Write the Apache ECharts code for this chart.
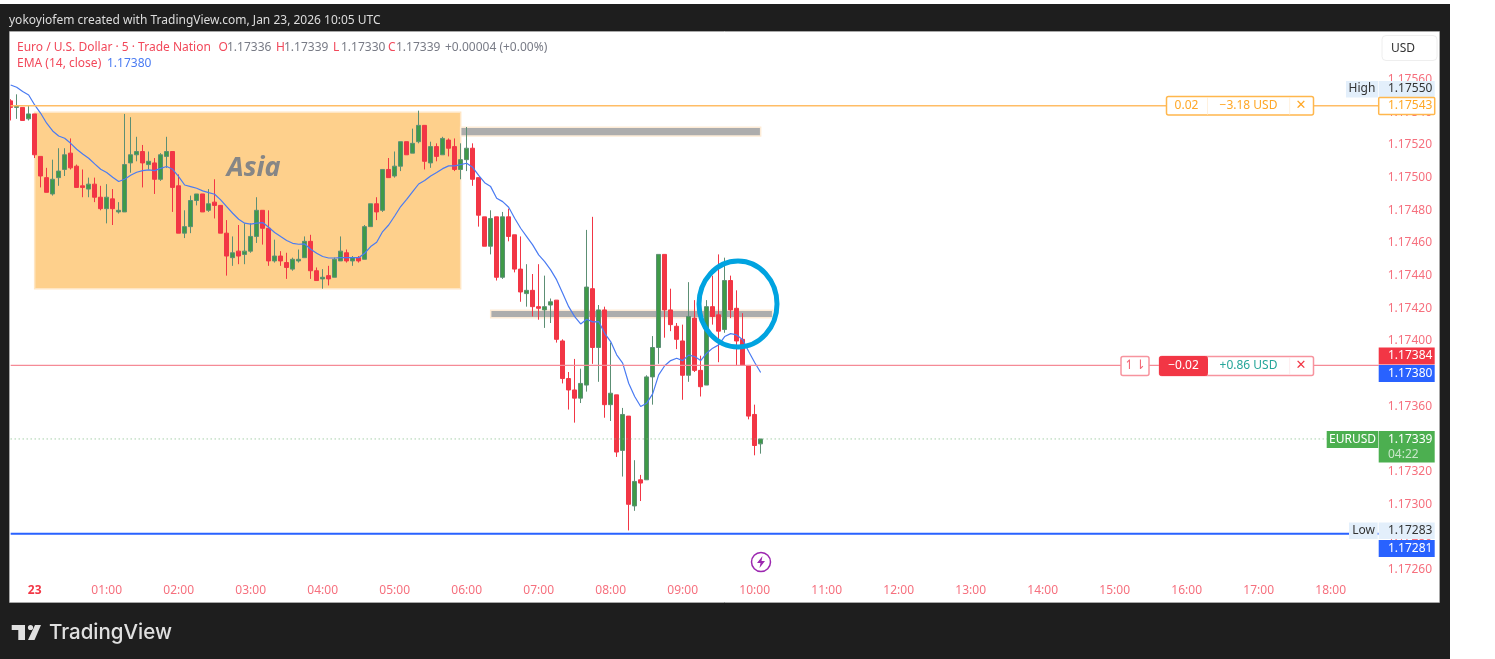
<!DOCTYPE html>
<html>
<head>
<meta charset="utf-8">
<style>html,body{margin:0;padding:0;background:#fff}#main{width:1495px;height:659px}</style>
<script src="https://cdn.jsdelivr.net/npm/echarts@6/dist/echarts.min.js"></script>
</head>
<body>
<div id="main"></div>
<script>
// 5 minute bars, first one is 23:40 of the previous day
var opens = [1.17546,1.17542,1.17542,1.17535,
1.17538,1.17512,1.17499,1.17489,1.17499,1.17504,1.17514,1.17506,1.17494,1.17492,
1.17495,1.17487,1.17480,1.17486,1.17478,1.17478,1.17508,1.17513,1.17515,1.17507,
1.17508,1.17498,1.17512,1.17515,1.17494,1.17465,1.17469,1.17485,1.17489,1.17479,
1.17484,1.17482,1.17465,1.17450,1.17454,1.17452,1.17454,1.17463,1.17479,1.17468,
1.17448,1.17451,1.17447,1.17443,1.17448,1.17450,1.17460,1.17442,1.17437,1.17439,
1.17438,1.17448,1.17453,1.17448,1.17450,1.17449,1.17469,1.17483,1.17479,1.17504,
1.17500,1.17506,1.17521,1.17514,1.17521,1.17531,1.17508,1.17518,1.17513,1.17522,
1.17518,1.17504,1.17510,1.17517,1.17499,1.17475,1.17457,1.17475,1.17438,1.17475,
1.17464,1.17443,1.17428,1.17430,1.17420,1.17418,1.17421,1.17424,1.17399,1.17376,
1.17369,1.17364,1.17372,1.17431,1.17395,1.17418,1.17360,1.17366,1.17332,1.17353,
1.17298,1.17314,1.17314,1.17377,1.17395,1.17452,1.17418,1.17408,1.17399,1.17378,
1.17413,1.17381,1.17372,1.17420,1.17415,1.17406,1.17436,1.17419,1.17400,1.17384,
1.17354,1.17336];
var closes = [1.17542,1.17543,1.17534,1.17538,
1.17513,1.17500,1.17490,1.17498,1.17503,1.17513,1.17505,1.17493,1.17493,1.17495,
1.17487,1.17480,1.17487,1.17480,1.17479,1.17507,1.17513,1.17515,1.17508,1.17509,
1.17498,1.17513,1.17515,1.17493,1.17465,1.17469,1.17485,1.17489,1.17478,1.17483,
1.17482,1.17465,1.17451,1.17453,1.17451,1.17454,1.17463,1.17479,1.17468,1.17448,
1.17451,1.17448,1.17444,1.17449,1.17449,1.17460,1.17442,1.17436,1.17438,1.17437,
1.17449,1.17454,1.17448,1.17450,1.17448,1.17469,1.17483,1.17478,1.17504,1.17499,
1.17506,1.17521,1.17513,1.17520,1.17531,1.17509,1.17518,1.17512,1.17523,1.17517,
1.17504,1.17510,1.17517,1.17498,1.17476,1.17457,1.17474,1.17438,1.17475,1.17463,
1.17443,1.17429,1.17430,1.17420,1.17419,1.17420,1.17423,1.17400,1.17376,1.17369,
1.17364,1.17373,1.17432,1.17395,1.17418,1.17360,1.17367,1.17331,1.17354,1.17299,
1.17313,1.17312,1.17377,1.17395,1.17452,1.17418,1.17409,1.17400,1.17378,1.17414,
1.17381,1.17371,1.17420,1.17414,1.17405,1.17436,1.17418,1.17399,1.17384,1.17353,
1.17335,1.17339];
var highs = [1.17547,1.17550,1.17542,1.17543,
1.17538,1.17512,1.17505,1.17510,1.17517,1.17517,1.17523,1.17507,1.17504,1.17499,
1.17499,1.17494,1.17495,1.17492,1.17484,1.17538,1.17536,1.17524,1.17519,1.17515,
1.17511,1.17514,1.17524,1.17515,1.17501,1.17479,1.17488,1.17489,1.17489,1.17492,
1.17498,1.17482,1.17473,1.17463,1.17470,1.17471,1.17471,1.17487,1.17479,1.17479,
1.17461,1.17454,1.17453,1.17450,1.17455,1.17463,1.17464,1.17444,1.17443,1.17445,
1.17450,1.17463,1.17455,1.17451,1.17451,1.17470,1.17483,1.17487,1.17504,1.17511,
1.17515,1.17521,1.17521,1.17529,1.17540,1.17531,1.17521,1.17520,1.17524,1.17523,
1.17523,1.17520,1.17530,1.17520,1.17499,1.17475,1.17479,1.17475,1.17478,1.17480,
1.17464,1.17463,1.17446,1.17440,1.17446,1.17439,1.17425,1.17424,1.17400,1.17380,
1.17388,1.17382,1.17467,1.17475,1.17421,1.17420,1.17398,1.17366,1.17358,1.17353,
1.17326,1.17317,1.17378,1.17402,1.17452,1.17452,1.17431,1.17410,1.17409,1.17435,
1.17424,1.17390,1.17424,1.17439,1.17452,1.17450,1.17439,1.17430,1.17416,1.17384,
1.17360,1.17339];
var lows = [1.17534,1.17535,1.17534,1.17534,
1.17511,1.17493,1.17490,1.17488,1.17494,1.17500,1.17504,1.17493,1.17487,1.17487,
1.17484,1.17479,1.17471,1.17470,1.17477,1.17478,1.17502,1.17509,1.17493,1.17504,
1.17489,1.17497,1.17505,1.17478,1.17465,1.17462,1.17465,1.17482,1.17478,1.17478,
1.17474,1.17465,1.17439,1.17445,1.17446,1.17446,1.17453,1.17459,1.17458,1.17445,
1.17447,1.17445,1.17437,1.17442,1.17447,1.17450,1.17437,1.17436,1.17431,1.17433,
1.17438,1.17448,1.17447,1.17445,1.17447,1.17449,1.17469,1.17473,1.17478,1.17499,
1.17499,1.17503,1.17513,1.17514,1.17520,1.17504,1.17505,1.17509,1.17513,1.17512,
1.17503,1.17498,1.17503,1.17494,1.17469,1.17457,1.17452,1.17436,1.17437,1.17460,
1.17441,1.17423,1.17420,1.17414,1.17412,1.17407,1.17410,1.17398,1.17373,1.17357,
1.17349,1.17361,1.17368,1.17385,1.17374,1.17352,1.17350,1.17328,1.17316,1.17283,
1.17295,1.17301,1.17314,1.17360,1.17385,1.17401,1.17405,1.17394,1.17363,1.17374,
1.17380,1.17365,1.17372,1.17409,1.17386,1.17404,1.17413,1.17384,1.17384,1.17351,
1.17329,1.17330];
var emaValues = [1.175557,1.175543,1.175517,1.175496,
1.175435,1.175384,1.175323,1.175276,1.175245,1.175231,1.175200,1.175164,1.175135,1.175109,
1.175074,1.175041,1.175021,1.174992,1.174966,1.174980,1.175005,1.175023,1.175033,1.175037,
1.175033,1.175047,1.175058,1.175041,1.174996,1.174945,1.174935,1.174925,1.174909,1.174898,
1.174888,1.174854,1.174813,1.174772,1.174735,1.174711,1.174705,1.174711,1.174715,1.174686,
1.174654,1.174629,1.174605,1.174588,1.174582,1.174584,1.174552,1.174527,1.174507,1.174498,
1.174498,1.174500,1.174500,1.174500,1.174500,1.174527,1.174568,1.174594,1.174660,1.174700,
1.174755,1.174813,1.174857,1.174904,1.174951,1.174972,1.175000,1.175021,1.175045,1.175062,
1.175062,1.175070,1.175078,1.175053,1.175004,1.174959,1.174935,1.174864,1.174843,1.174809,
1.174741,1.174680,1.174629,1.174578,1.174517,1.174476,1.174425,1.174364,1.174282,1.174200,
1.174139,1.174094,1.174123,1.174107,1.174109,1.174037,1.173986,1.173905,1.173854,1.173731,
1.173650,1.173589,1.173609,1.173666,1.173782,1.173838,1.173870,1.173884,1.173870,1.173903,
1.173895,1.173870,1.173915,1.173946,1.173966,1.174017,1.174035,1.174027,1.173997,1.173925,
1.173858,1.173797];

var priceMin = 1.1726, priceMax = 1.1756, priceStep = 0.0002;
var barCount = 229;
var categories = [];
for (var k = 0; k < barCount; k++) {
    var mins = 23 * 60 + 40 + k * 5;
    var hh = Math.floor(mins / 60) % 24, mm = mins % 60;
    categories.push((hh < 10 ? '0' : '') + hh + ':' + (mm < 10 ? '0' : '') + mm);
}

var orderLine = 1.17543, entryLine = 1.17384, lowLine = 1.17281, lastLine = 1.17339;
// zones: [first bar, last bar, top price, bottom price]
var asiaZone = [4, 75, 1.17539, 1.17431];
var upperZone = [75, 125, 1.175298, 1.175245];
var lowerZone = [80, 127, 1.174178, 1.174132];

var candleData = opens.map(function (o, i) { return [o, closes[i], lows[i], highs[i]]; });

var FONT = '"Noto Sans", sans-serif';
var RED = '#f23645', SOFT = '#f6707e', LEGEND = '#f2485a', ORANGE = '#ffa726', BLUE = '#2962ff', GREEN = '#4caf50';

function zone(z, color, border, label) {
    var first = { xAxis: z[0], yAxis: z[2], itemStyle: { color: color, borderColor: border, borderWidth: 1.5 } };
    if (label) first.label = label;
    return [first, { xAxis: z[1], yAxis: z[3] }];
}
// price level across the whole pane
function level(p, color, width, type) {
    return {
        type: 'line', z: 4, silent: true, showSymbol: false,
        data: categories.map(function () { return p; }),
        lineStyle: { color: color, width: width, type: type || 'solid' }
    };
}

var myChart = echarts.init(document.getElementById('main'));
var option = {
    animation: false,
    backgroundColor: '#fff',
    grid: { left: 7.67, top: 78, width: barCount * 6, height: 490 },
    xAxis: {
        type: 'category',
        data: categories,
        boundaryGap: true,
        axisLine: { show: false },
        axisTick: { show: false },
        splitLine: { show: false },
        axisLabel: {
            margin: 17,
            color: SOFT,
            fontFamily: FONT,
            fontSize: 12,
            interval: function (idx, val) { return val.slice(3) === '00'; },
            formatter: function (val) { return val === '00:00' ? '{d|23}' : val; },
            rich: { d: { color: RED, fontWeight: 'bold', fontSize: 12, fontFamily: FONT } }
        }
    },
    yAxis: {
        type: 'value',
        position: 'right',
        min: priceMin,
        max: priceMax,
        interval: priceStep,
        axisLine: { show: false },
        axisTick: { show: false },
        splitLine: { show: false },
        axisLabel: {
            margin: 6,
            verticalAlign: 'top',
            lineHeight: 3,
            color: SOFT,
            fontFamily: FONT,
            fontSize: 12,
            formatter: function (v) { return v.toFixed(5); }
        }
    },
    series: [
        {
            // zones sit under the candles
            type: 'line', z: 1, data: [], silent: true,
            markArea: {
                silent: true,
                data: [
                    zone(asiaZone, '#fed08c', '#ffe6c4', {
                        show: true, formatter: 'Asia', position: 'insideTop', distance: 43, offset: [6, 0],
                        color: '#868686', fontSize: 27, fontWeight: 'bold', fontStyle: 'italic', fontFamily: FONT
                    }),
                    zone(upperZone, '#adadad', '#fdebd6'),
                    zone(lowerZone, '#adadad', '#fdebd6')
                ]
            }
        },
        {
            name: 'EURUSD', type: 'candlestick', z: 2, data: candleData, barWidth: 4,
            itemStyle: { color: '#3f9a48', color0: RED, borderColor: '#5c8f74', borderColor0: RED, borderWidth: 1 }
        },
        {
            name: 'EMA (14, close)', type: 'line', z: 3, data: emaValues, showSymbol: false, smooth: false,
            lineStyle: { color: '#4a7bf2', width: 1.2 }
        },
        level(orderLine, '#ffbd66', 1.5),
        level(entryLine, '#f58a96', 1.2),
        level(lowLine, BLUE, 2),
        level(lastLine, '#7db880', 1, [1, 3])
    ]
};
myChart.setOption(option);

// chrome and price tags
function box(x, y, w, h, fill, stroke, r, z, lw) {
    return { type: 'rect', z: z || 100, silent: true, shape: { x: x, y: y, width: w, height: h, r: r || 0 },
        style: { fill: fill, stroke: stroke || null, lineWidth: stroke ? (lw || 1) : 0 } };
}
function label(txt, x, y, color, size, align, weight, font) {
    return { type: 'text', z: 101, silent: true, x: x, y: y + 1.5,
        style: { text: txt, fill: color, fontSize: size || 12, fontFamily: font || FONT, fontWeight: weight || 'normal',
            align: align || 'left', verticalAlign: 'middle' } };
}
var DARK = '#1e1e1e', TAGX = 1378.7, TAGW = 56;
var els = [
    box(0, 4, 1450, 27, DARK), box(0, 4, 10, 655, DARK), box(0, 602, 1450, 57, DARK), box(1439, 4, 11, 655, DARK),
    box(9.5, 31.5, 1430, 571, null, '#a8a8a8'),
    label('yokoyiofem created with TradingView.com, Jan 23, 2026 10:05 UTC', 9, 19, '#dddddd', 12),

    // legend
    label('Euro / U.S. Dollar · 5 · Trade Nation', 17, 46, LEGEND, 12),
    label('O', 218.5, 46, LEGEND, 12), label('1.17336', 227, 46, '#787b86', 12),
    label('H', 276, 46, LEGEND, 12), label('1.17339', 284, 46, '#787b86', 12),
    label('L', 333, 46, LEGEND, 12), label('1.17330', 341, 46, '#787b86', 12),
    label('C', 388, 46, LEGEND, 12), label('1.17339', 396, 46, '#787b86', 12),
    label('+0.00004 (+0.00%)', 445, 46, '#787b86', 12),
    label('EMA (14, close)', 17, 62, LEGEND, 12), label('1.17380', 107, 62, '#4a7bf2', 12),

    // USD button
    box(1382, 35.5, 55, 25, '#fff', '#eeeeee', 4), label('USD', 1391, 47, '#333', 12),

    // high / orange tags
    box(1346, 81, 32, 16.5, '#e3effb'), label('High', 1362, 87.5, '#333', 12, 'center'),
    box(TAGX, 81, TAGW, 16.5, '#e3effb'), label('1.17550', 1388, 87.5, '#333', 12),
    box(TAGX, 97.5, TAGW, 17, '#fff', '#ffb74d', 1, 100, 1.5), label('1.17543', 1388, 104.5, ORANGE, 12),

    // orange order box
    box(1166.5, 96.5, 147, 18.5, '#fff', '#ffb74d', 2, 100, 1.5),
    box(1207, 97, 0.6, 18, '#ffe8c8'), box(1289.5, 97, 0.6, 18, '#ffe8c8'),
    label('0.02', 1186.5, 104.5, ORANGE, 12, 'center'),
    label('−3.18 USD', 1248.5, 104.5, ORANGE, 12, 'center'),
    label('✕', 1301, 104.5, ORANGE, 13, 'center', 'normal', '"DejaVu Sans"'),

    // entry order box
    box(1121, 356.5, 28, 19, '#fff', '#f7949e', 2, 100, 1.5),
    label('↿⇂', 1135, 364.5, '#f26a78', 13, 'center', 'normal', '"DejaVu Sans"'),
    box(1159.5, 356.5, 154, 19, '#fff', '#f7949e', 2, 100, 1.5),
    box(1159.5, 356.5, 48, 19, RED, RED, 2),
    box(1289.5, 357, 0.6, 18, '#fde0e3'),
    label('−0.02', 1183.5, 364.5, '#fff', 12, 'center'),
    label('+0.86 USD', 1248.5, 364.5, '#26a69a', 12, 'center'),
    label('✕', 1301, 364.5, RED, 13, 'center', 'normal', '"DejaVu Sans"'),
    box(TAGX, 347.5, TAGW, 17, RED), label('1.17384', 1388, 354.5, '#fff', 12),
    box(TAGX, 365, TAGW, 17, BLUE), label('1.17380', 1388, 372, '#fff', 12),

    // last price
    box(1326.7, 431, 51.5, 17, GREEN), label('EURUSD', 1352.5, 438, '#fff', 12, 'center'),
    box(TAGX, 431, TAGW, 31.5, GREEN), label('1.17339', 1388, 438, '#fff', 12),
    label('04:22', 1388, 453, 'rgba(255,255,255,0.7)', 12),

    // low
    box(1349, 522.5, 28.7, 16.5, '#e3effb'), label('Low', 1363.5, 529.5, '#333', 12, 'center'),
    box(TAGX, 522.5, TAGW, 16.5, '#e3effb'), label('1.17283', 1388, 529.5, '#333', 12),
    box(TAGX, 540, TAGW, 17, BLUE), label('1.17281', 1388, 547, '#fff', 12),

    // circle drawing around the retest
    { type: 'ellipse', z: 90, silent: true, shape: { cx: 738, cy: 304, rx: 39, ry: 43 },
        style: { fill: null, stroke: '#00a3e0', lineWidth: 5 } },

    // lightning marker
    { type: 'circle', z: 100, silent: true, shape: { cx: 761, cy: 562, r: 9.5 },
        style: { fill: '#fff', stroke: '#9c27b0', lineWidth: 1.5 } },
    { type: 'polygon', z: 101, silent: true, shape: { points: [[762.5, 556], [757, 563], [760.5, 563], [759.5, 568], [765, 561], [761.5, 561]] },
        style: { fill: '#9c27b0' } },

    // logo
    { type: 'polygon', z: 101, silent: true, shape: { points: [[11.7, 625], [25, 625], [25, 640], [18.3, 640], [18.3, 630], [11.7, 630]] }, style: { fill: '#e0e0e0' } },
    { type: 'circle', z: 101, silent: true, shape: { cx: 30.5, cy: 627.5, r: 2.6 }, style: { fill: '#e0e0e0' } },
    { type: 'polygon', z: 101, silent: true, shape: { points: [[35, 625], [41, 625], [34.5, 640], [28, 640]] }, style: { fill: '#e0e0e0' } },
    label('TradingView', 49, 631.5, '#e0e0e0', 20.5, 'left', 500, '"Inter", sans-serif')
];
myChart.setOption({ graphic: { elements: els } });
</script>
</body>
</html>
